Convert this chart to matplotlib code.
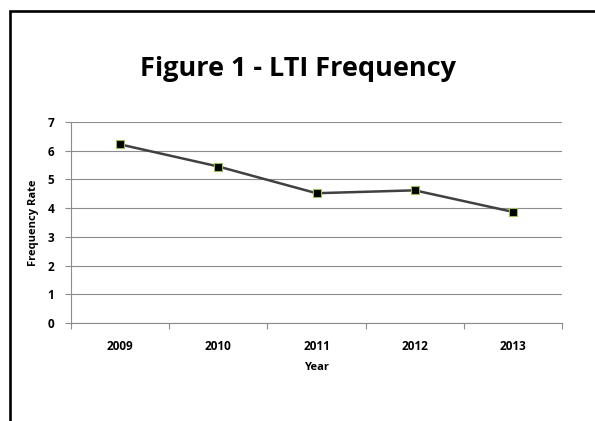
import matplotlib
matplotlib.use('Agg')
import matplotlib.pyplot as plt
from matplotlib.lines import Line2D

# Data
years = ['2009', '2010', '2011', '2012', '2013']
freq_rate = [6.22, 5.45, 4.52, 4.62, 3.87]

plt.rcParams['font.family'] = ['Open Sans', 'DejaVu Sans']

W, H = 595, 421
fig = plt.figure(figsize=(W / 100, H / 100), dpi=100)
ax = fig.add_axes([71 / W, 1 - 323 / H, (562 - 71) / W, (323 - 122) / H])

# outer frame (left and top edges visible)
fig.add_artist(Line2D([9.5 / W, 9.5 / W, 1.01], [-0.01, 1 - 10.5 / H, 1 - 10.5 / H],
                      transform=fig.transFigure, color='black', lw=1.9,
                      solid_joinstyle='miter'))

fig.text(0.5, 1 - 69 / H, 'Figure 1 - LTI Frequency', ha='center', va='center',
         fontsize=19.5, fontweight='bold', color='black')

x = range(len(years))
ax.plot(x, freq_rate, color='#404040', lw=1.8, marker='s', markersize=5.5,
        markerfacecolor='black', markeredgecolor='#9bbb59', markeredgewidth=0.8,
        zorder=3)

ax.set_xlim(-0.5, len(years) - 0.5)
ax.set_ylim(0, 7)
ax.set_yticks(range(0, 8))
ax.set_xticks(list(x))
ax.set_xticklabels(years)
ax.set_xticks([i - 0.5 for i in range(len(years) + 1)], minor=True)

ax.grid(axis='y', color='#8c8c8c', lw=0.8)
ax.set_axisbelow(True)
for s in ['top', 'right']:
    ax.spines[s].set_visible(False)
for s in ['left', 'bottom']:
    ax.spines[s].set_color('#8c8c8c')
    ax.spines[s].set_linewidth(0.8)

ax.tick_params(axis='x', which='major', length=0, pad=12)
ax.tick_params(axis='x', which='minor', length=4, color='#8c8c8c', width=0.8)
ax.tick_params(axis='y', length=4, color='#8c8c8c', width=0.8, pad=8)
for lab in ax.get_xticklabels() + ax.get_yticklabels():
    lab.set_fontsize(8.5)
    lab.set_fontweight('bold')

ax.set_xlabel('Year', fontsize=8, fontweight='bold', labelpad=7)
ax.set_ylabel('Frequency Rate', fontsize=8, fontweight='bold', labelpad=6)

fig.savefig('out.png', dpi=100)
